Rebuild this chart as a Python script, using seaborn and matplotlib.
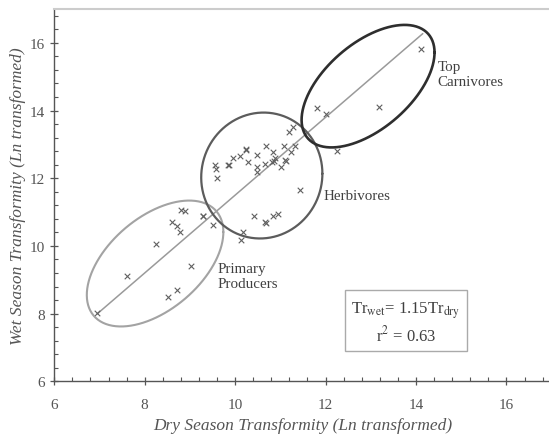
import numpy as np
import pandas as pd
import matplotlib
matplotlib.use("Agg")
import matplotlib.pyplot as plt
import seaborn as sns
from matplotlib.ticker import MultipleLocator

# ------------------------------------------
# data
# ------------------------------------------

# primary producers
pp_dry = [6.94, 7.60, 8.25, 8.52, 8.71, 9.02, 8.60, 8.71, 8.78, 8.80, 8.89, 9.30, 9.52]
pp_wet = [8.01, 9.10, 10.06, 8.50, 8.71, 9.42, 10.70, 10.60, 10.42, 11.07, 11.04, 10.89, 10.63]

# herbivores
hb_dry = [9.55, 9.57, 9.59, 9.84, 9.86, 9.96, 10.11, 10.24, 10.25, 10.29, 10.49, 10.49,
          10.48, 10.68, 10.65, 10.84, 10.81, 10.88, 10.86, 11.07, 11.10, 11.12, 11.01,
          11.24, 11.32, 11.43, 11.20, 11.29, 10.42, 10.66, 10.68, 10.84, 10.94, 10.18,
          10.12, 9.30]
hb_wet = [12.39, 12.27, 12.00, 12.40, 12.38, 12.60, 12.65, 12.83, 12.86, 12.49, 12.69, 12.32,
          12.19, 12.96, 12.42, 12.77, 12.49, 12.60, 12.52, 12.94, 12.55, 12.52, 12.32,
          12.78, 12.94, 11.66, 13.37, 13.50, 10.89, 10.70, 10.67, 10.89, 10.93, 10.42,
          10.18, 10.87]

# top carnivores
tc_dry = [11.80, 12.01, 12.26, 13.18, 14.10]
tc_wet = [14.07, 13.90, 12.79, 14.11, 15.81]

# regression Tr_wet = 1.15 Tr_dry
fit_slope = 1.15
fit_x = np.array([6.95, 14.15])

# group ellipses: centre, half width, half height, tilt (correlation)
groups = ["Primary\nProducers", "Herbivores", "Top\nCarnivores"]
ell_cx = [8.23, 10.59, 12.94]
ell_cy = [9.48, 12.08, 14.72]
ell_w = [1.51, 1.34, 1.47]
ell_h = [1.86, 1.86, 1.81]
ell_rho = [0.50, 0.03, 0.55]
ell_color = ["#a3a3a3", "#5c5c5c", "#2e2e2e"]
ell_lw = [1.5, 1.6, 1.9]
label_x = [9.60, 11.96, 14.48]
label_y = [9.12, 11.50, 15.07]

df = pd.DataFrame({"dry": pp_dry + hb_dry + tc_dry,
                   "wet": pp_wet + hb_wet + tc_wet})

# ------------------------------------------
# style
# ------------------------------------------

sns.set_style("white")
plt.rcParams["font.family"] = ["Liberation Serif", "DejaVu Serif"]
plt.rcParams["mathtext.fontset"] = "stix"

fig = plt.figure(figsize=(5.49, 4.35), dpi=100)
ax = fig.add_axes([54.25 / 549, 1 - 382.3 / 435, 497.4 / 549, 372.3 / 435])

# regression line
ax.plot(fit_x, fit_slope * fit_x, color="#9a9a9a", lw=1.1, zorder=2)

# points
sns.scatterplot(data=df, x="dry", y="wet", marker="x", color="#606060",
                s=16, linewidth=0.8, ax=ax, zorder=3)

# ellipses
t = np.linspace(0, 2 * np.pi, 300)
for i in range(len(groups)):
    ex = ell_cx[i] + ell_w[i] * np.cos(t)
    ey = ell_cy[i] + ell_h[i] * (ell_rho[i] * np.cos(t) + np.sqrt(1 - ell_rho[i] ** 2) * np.sin(t))
    ax.plot(ex, ey, color=ell_color[i], lw=ell_lw[i], zorder=4)
    ax.text(label_x[i], label_y[i], groups[i], ha="left", va="center",
            fontsize=10.8, color="#404040", linespacing=1.2)

# equation box
ax.text(13.78, 7.75, "Tr$_{\\mathrm{wet}}$= 1.15Tr$_{\\mathrm{dry}}$\nr$^2$ = 0.63",
        ha="center", va="center", fontsize=12, color="#404040", linespacing=1.25,
        bbox=dict(boxstyle="square,pad=0.4", fc="white", ec="#aaaaaa", lw=1.0))

# axes
ax.set_xlim(6, 17)
ax.set_ylim(6, 17)
ax.xaxis.set_major_locator(MultipleLocator(2))
ax.yaxis.set_major_locator(MultipleLocator(2))
ax.xaxis.set_minor_locator(MultipleLocator(0.4))
ax.yaxis.set_minor_locator(MultipleLocator(0.4))
ax.tick_params(which="both", bottom=True, left=True, top=False, right=False)
ax.tick_params(which="major", direction="inout", length=6, width=0.9,
               color="#555555", labelcolor="#555555", labelsize=11)
ax.tick_params(which="minor", direction="in", length=3, width=0.8, color="#555555")
ax.tick_params(axis="x", which="major", pad=9)
ax.tick_params(axis="y", which="major", pad=4)

for side in ["left", "bottom"]:
    ax.spines[side].set_color("#555555")
    ax.spines[side].set_linewidth(1.0)
ax.spines["top"].set_color("#cccccc")
ax.spines["top"].set_linewidth(1.5)
ax.spines["right"].set_visible(False)

ax.set_xlabel("Dry Season Transformity (Ln transformed)", fontsize=12.5,
              style="italic", color="#555555", labelpad=4)
ax.set_ylabel("Wet Season Transformity (Ln transformed)", fontsize=12.5,
              style="italic", color="#555555", labelpad=2)
ax.grid(False)

fig.savefig("out.png", dpi=100)
